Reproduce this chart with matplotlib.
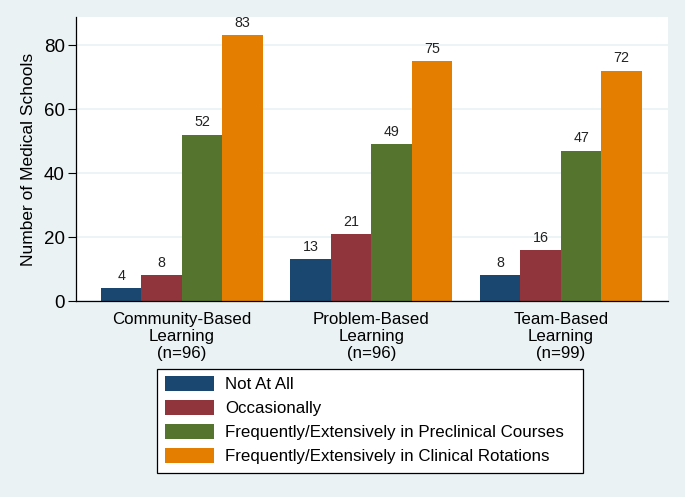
import matplotlib
matplotlib.use("Agg")
import matplotlib.pyplot as plt
from matplotlib.patches import Rectangle
import numpy as np

categories = ["Community-Based\nLearning\n(n=96)", "Problem-Based\nLearning\n(n=96)", "Team-Based\nLearning\n(n=99)"]
series_names = ["Not At All", "Occasionally",
                "Frequently/Extensively in Preclinical Courses",
                "Frequently/Extensively in Clinical Rotations"]
not_at_all = [4, 13, 8]
occasionally = [8, 21, 16]
preclinical = [52, 49, 47]
clinical = [83, 75, 72]
yticks = [0, 20, 40, 60, 80]

colors = ["#1a476f", "#90353b", "#55752f", "#e37e00"]
bg = "#eaf2f3"

plt.rcParams['font.family'] = ['Liberation Sans', 'DejaVu Sans']

W, H = 685, 497
fig = plt.figure(figsize=(W/100, H/100), dpi=100, facecolor=bg)
ax = fig.add_axes([76/W, 1-301/H, 592/W, 284/H])
ax.set_facecolor("white")

x = np.arange(len(categories))
w = 0.2137
all_series = [not_at_all, occasionally, preclinical, clinical]
handles = []
for i, (vals, c) in enumerate(zip(all_series, colors)):
    pos = x + (i - 1.5) * w
    b = ax.bar(pos, vals, width=w, color=c, edgecolor=c, linewidth=0, label=series_names[i], zorder=2)
    handles.append(b)
    for p, v in zip(pos, vals):
        ax.text(p, v + 1.6, str(v), ha="center", va="bottom", fontsize=10.3, color="#222222")

ax.set_xlim(-0.559, 2.565)
ax.set_ylim(0, 88.75)
ax.set_yticks(yticks)
ax.set_yticklabels([str(t) for t in yticks], fontsize=13.5)
ax.set_xticks(x)
ax.set_xticklabels(categories, fontsize=12.2, linespacing=1.15)
ax.tick_params(axis="x", length=0, pad=8)
ax.tick_params(axis="y", length=6, width=0.8, color="black", pad=2)
ax.yaxis.grid(True, color="#eaf2f3", linewidth=1.2, zorder=0)
ax.set_axisbelow(True)
for s in ["top", "right"]:
    ax.spines[s].set_visible(False)
for s in ["left", "bottom"]:
    ax.spines[s].set_linewidth(0.9)
ax.set_ylabel("Number of Medical Schools", fontsize=12.5, labelpad=6)

# legend frame
fig.patches.append(Rectangle((157/W, 1-473/H), 426/W, 104/H, transform=fig.transFigure,
                             facecolor="white", edgecolor="black", linewidth=0.9, zorder=0))
leg = fig.legend(handles=handles, labels=series_names, loc="upper left",
                 bbox_to_anchor=(165/W, 1-376/H), ncol=1, fontsize=12.2,
                 frameon=False,
                 handlelength=2.9, handleheight=1.0, handletextpad=0.65,
                 labelspacing=0.45, borderpad=0, borderaxespad=0)

fig.savefig("out.png", dpi=100, facecolor=bg)
